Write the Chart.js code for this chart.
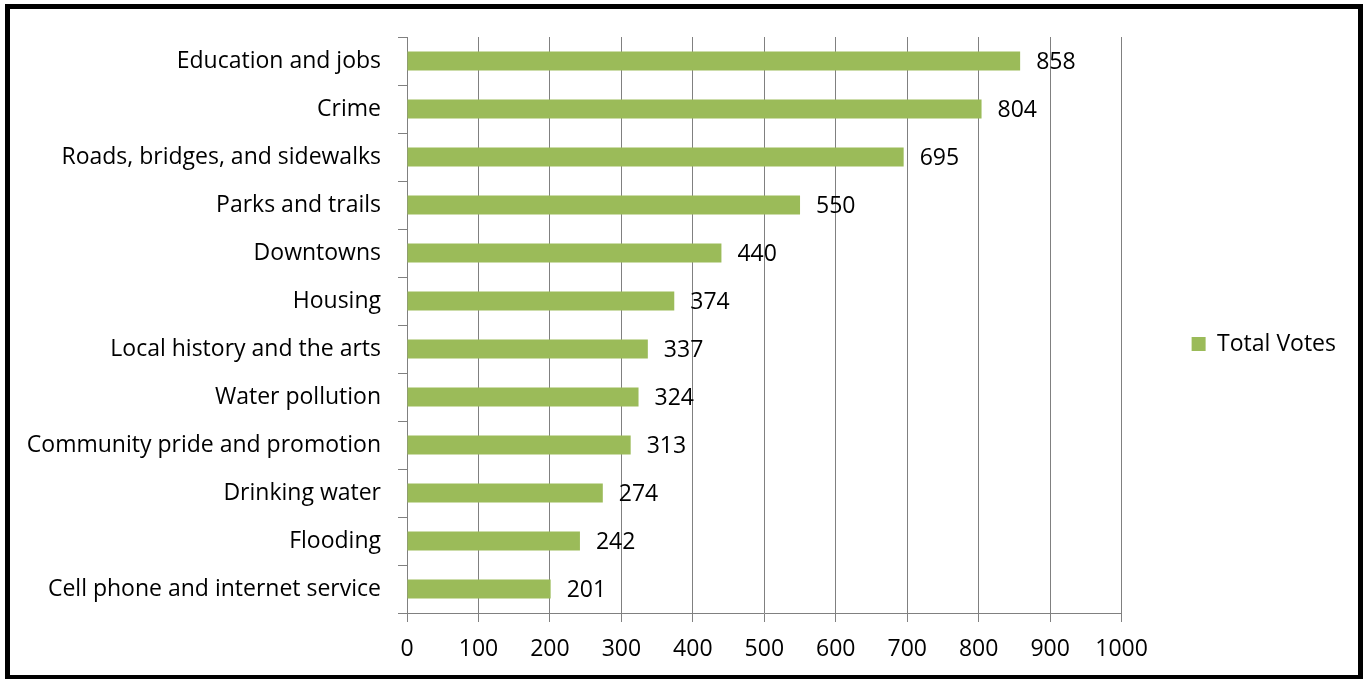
<!DOCTYPE html>
<html>
<head>
<meta charset="utf-8">
<script src="https://cdn.jsdelivr.net/npm/chart.js@4/dist/chart.umd.min.js"></script>
<style>
  html, body { margin: 0; padding: 0; background: #ffffff; overflow: hidden; }
  #wrap { position: absolute; left: 0; top: 0; width: 1366px; height: 679px; }
  #frame { position: absolute; left: 5px; top: 4px; width: 1358px; height: 676px;
           box-sizing: border-box; border: 5px solid #000; pointer-events: none; }
</style>
</head>
<body>
<div id="wrap">
  <canvas id="c" width="1366" height="679"></canvas>
  <div id="frame"></div>
</div>
<script>
const categories = [
  "Education and jobs",
  "Crime",
  "Roads, bridges, and sidewalks",
  "Parks and trails",
  "Downtowns",
  "Housing",
  "Local history and the arts",
  "Water pollution",
  "Community pride and promotion",
  "Drinking water",
  "Flooding",
  "Cell phone and internet service"
];
const totalVotes = [858, 804, 695, 550, 440, 374, 337, 324, 313, 274, 242, 201];
const seriesName = "Total Votes";
const xTickMin = 0;
const xTickMax = 1000;
const xTickStep = 100;

const FONT = { family: "'Open Sans', sans-serif", size: 23 };
const GRID = '#808080';

const valueLabels = {
  id: 'valueLabels',
  afterDatasetsDraw(chart) {
    const ctx = chart.ctx;
    ctx.save();
    ctx.font = FONT.size + "px " + FONT.family;
    ctx.fillStyle = '#000';
    ctx.textAlign = 'left';
    ctx.textBaseline = 'middle';
    chart.data.datasets.forEach((ds, di) => {
      chart.getDatasetMeta(di).data.forEach((bar, i) => {
        ctx.fillText(String(ds.data[i]), bar.x + 16, bar.y + 1);
      });
    });
    ctx.restore();
  }
};

new Chart(document.getElementById('c'), {
  type: 'bar',
  data: {
    labels: categories,
    datasets: [{
      label: seriesName,
      data: totalVotes,
      backgroundColor: '#9BBB59',
      borderWidth: 0,
      categoryPercentage: 0.8,
      barPercentage: 0.5
    }]
  },
  options: {
    indexAxis: 'y',
    responsive: false,
    animation: false,
    devicePixelRatio: 1,
    layout: { padding: { left: 10, right: 20, top: 24, bottom: 15 } },
    plugins: {
      title: { display: true, text: '', padding: 0, font: { size: 10, lineHeight: 1.3 } },
      legend: {
        position: 'right',
        labels: {
          boxWidth: 14, boxHeight: 14, padding: 70,
          color: '#000', font: FONT
        }
      },
      tooltip: { enabled: false }
    },
    scales: {
      x: {
        min: xTickMin, max: xTickMax,
        ticks: { stepSize: xTickStep, color: '#000', font: FONT, padding: 14, maxRotation: 0,
                 callback: (v) => String(v) },
        grid: { color: GRID, lineWidth: 1, tickLength: 9, drawTicks: true },
        border: { color: GRID, width: 1 },
        afterFit(scale) { scale.height = 51; }
      },
      y: {
        ticks: { color: '#000', font: FONT, padding: 17 },
        grid: { color: GRID, lineWidth: 1, tickLength: 9, drawOnChartArea: false, drawTicks: true, offset: true },
        border: { color: GRID, width: 1 },
        afterFit(scale) { scale.width = 397; }
      }
    }
  },
  plugins: [valueLabels]
});
</script>
</body>
</html>
